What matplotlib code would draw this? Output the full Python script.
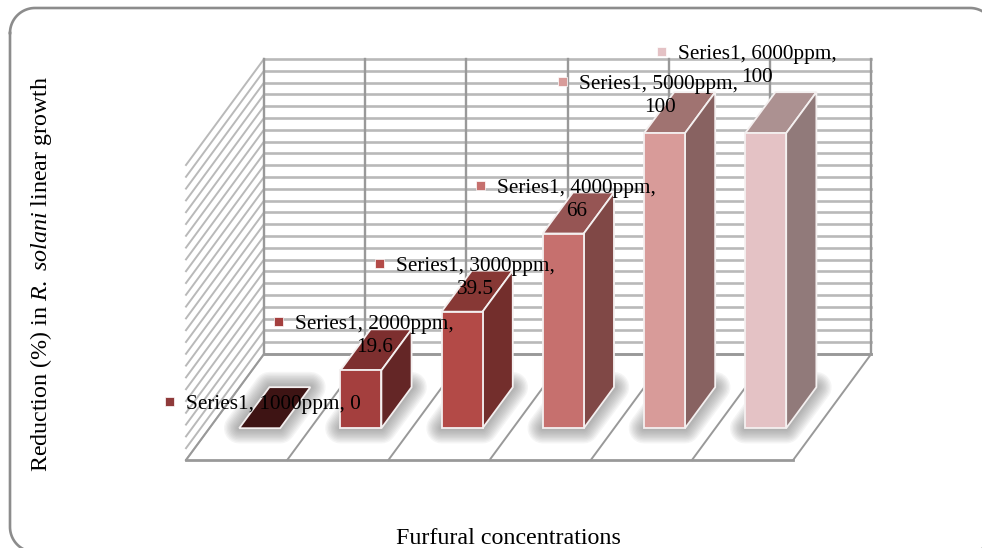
import matplotlib
matplotlib.use('Agg')
import matplotlib.pyplot as plt
import numpy as np

plt.rcParams['font.family'] = 'Liberation Serif'
plt.rcParams['mathtext.fontset'] = 'custom'
plt.rcParams['mathtext.rm'] = 'Liberation Serif'
plt.rcParams['mathtext.it'] = 'Liberation Serif:italic'

concentrations = ['1000ppm', '2000ppm', '3000ppm', '4000ppm', '5000ppm', '6000ppm']
reduction = [0, 19.6, 39.5, 66, 100, 100]
series_name = 'Series1'
y_max = 100
y_step = 4

front_colors = ['#8f3a3a', '#a43f3e', '#b34a47', '#c6706e', '#d89b99', '#e4c2c5']
top_colors = ['#3e1414', '#7d2f2f', '#873835', '#965554', '#a07371', '#ac9191']
side_colors = ['#3e1414', '#642626', '#732e2c', '#804846', '#886261', '#917a7a']

# pixel size of the canvas and the oblique projection of the 3d box
W, H = 982, 548
CAT_PX = 101.2
UNIT_PX = 2.95
FLOOR_LEFT = 186
FLOOR_Y = 460
DEPTH_X = 78 / CAT_PX
DEPTH_Y = 106 / UNIT_PX
BAR_GAP = 0.2945
BAR_W = 0.405
BAR_D0 = 0.30
BAR_D1 = 0.687

GRID_LIGHT = '#b9b9b9'
GRID_DARK = '#999999'
LABEL_SIZE = 15.3
TITLE_SIZE = 17.3


def project(x, v, d):
    return x + d * DEPTH_X, v + d * DEPTH_Y


def poly(points):
    xs, ys = zip(*[project(*p) for p in points])
    return xs, ys


def draw_walls(ax, n):
    ticks = range(0, y_max + 1, y_step)
    for v in ticks:
        ax.plot(*poly([(0, v, 0), (0, v, 1)]), color=GRID_LIGHT, lw=1.4, zorder=1)
        ax.plot(*poly([(0, v, 1), (n, v, 1)]), color=GRID_LIGHT, lw=1.9, zorder=1)
    for k in range(n + 1):
        ax.plot(*poly([(k, 0, 1), (k, y_max, 1)]), color=GRID_DARK, lw=1.7, zorder=1.1)
        ax.plot(*poly([(k, 0, 0), (k, 0, 1)]), color=GRID_DARK, lw=1.4, zorder=1.1)
    ax.plot(*poly([(0, 0, 1), (n, 0, 1)]), color=GRID_DARK, lw=2, zorder=1.1)
    ax.plot(*poly([(0, 0, 0), (n, 0, 0)]), color=GRID_DARK, lw=2, zorder=1.1)


def draw_shadow(ax, k):
    x0, x1 = k + BAR_GAP, k + BAR_GAP + BAR_W
    foot = [(x0, 0, BAR_D0), (x1, 0, BAR_D0), (x1, 0, BAR_D1), (x0, 0, BAR_D1)]
    xs, ys = poly(foot)
    # white halo clears the floor lines, then soft strokes build up the blur
    ax.fill(xs, ys, fc='white', ec='white', lw=24, joinstyle='round', zorder=2)
    for lw in range(22, 0, -2):
        ax.fill(xs, ys, fc='#777777', ec='#777777', lw=lw, alpha=0.07,
                joinstyle='round', zorder=2.1)


def draw_bar(ax, k, value):
    x0, x1 = k + BAR_GAP, k + BAR_GAP + BAR_W
    z = 3 + k
    edge = dict(ec='#f4f0f0', lw=1.3, joinstyle='miter', zorder=z)
    top = [(x0, value, BAR_D0), (x1, value, BAR_D0), (x1, value, BAR_D1), (x0, value, BAR_D1)]
    ax.fill(*poly(top), fc=top_colors[k], **edge)
    if value <= 0:
        return
    side = [(x1, 0, BAR_D0), (x1, 0, BAR_D1), (x1, value, BAR_D1), (x1, value, BAR_D0)]
    ax.fill(*poly(side), fc=side_colors[k], **edge)
    front = [(x0, 0, BAR_D0), (x1, 0, BAR_D0), (x1, value, BAR_D0), (x0, value, BAR_D0)]
    ax.fill(*poly(front), fc=front_colors[k], **edge)


def rounded_outline(left, top, right, bottom, r):
    # corner arcs joined into one closed polyline
    t = np.linspace(0, np.pi / 2, 24)
    xs = np.concatenate([left + r - r * np.cos(t), right - r + r * np.sin(t),
                         right - r + r * np.cos(t), left + r - r * np.sin(t)])
    ys = np.concatenate([top + r - r * np.sin(t), top + r - r * np.cos(t),
                         bottom - r + r * np.sin(t), bottom - r + r * np.cos(t)])
    return np.append(xs, xs[0]), np.append(ys, ys[0])


fig = plt.figure(figsize=(W / 100, H / 100), dpi=100)

# chart axes: x counts categories, y is percent reduction
ax = fig.add_axes([0, 0, 1, 1])
ax.set_xlim(-FLOOR_LEFT / CAT_PX, (W - FLOOR_LEFT) / CAT_PX)
ax.set_ylim(-(H - FLOOR_Y) / UNIT_PX, FLOOR_Y / UNIT_PX)
ax.axis('off')

draw_walls(ax, len(reduction))
for i in range(len(reduction)):
    draw_shadow(ax, i)
for i, val in enumerate(reduction):
    draw_bar(ax, i, val)

# overlay in canvas pixels for the frame, titles and data labels
pix = fig.add_axes([0, 0, 1, 1])
pix.set_xlim(0, W)
pix.set_ylim(H, 0)
pix.axis('off')
pix.patch.set_alpha(0)

pix.plot(*rounded_outline(10, 8, 995, 552, 25), color='#8c8c8c', lw=1.9)

pix.text(508, 538, 'Furfural concentrations', fontsize=TITLE_SIZE, ha='center', va='center')
pix.text(41, 274, 'Reduction (%) in $\\mathit{R.\\ solani}$ linear growth', fontsize=TITLE_SIZE,
         rotation=90, ha='center', va='center')

label_x = [186, 295, 396, 497, 579, 678]
label_y = [404, 324, 266, 188, 84, 54]
value_x = [None, 375, 476, 577, 660, 757]
for i, (c, val) in enumerate(zip(concentrations, reduction)):
    pix.add_patch(plt.Rectangle((label_x[i] - 21, label_y[i] - 7), 9, 9, fc=front_colors[i], ec='white', lw=0.5))
    if value_x[i] is None:
        pix.text(label_x[i], label_y[i], f'{series_name}, {c}, {val:g}', fontsize=LABEL_SIZE, va='center')
    else:
        pix.text(label_x[i], label_y[i], f'{series_name}, {c},', fontsize=LABEL_SIZE, va='center')
        pix.text(value_x[i], label_y[i] + 23, f'{val:g}', fontsize=LABEL_SIZE, ha='center', va='center')

fig.savefig('out.png', dpi=100)
